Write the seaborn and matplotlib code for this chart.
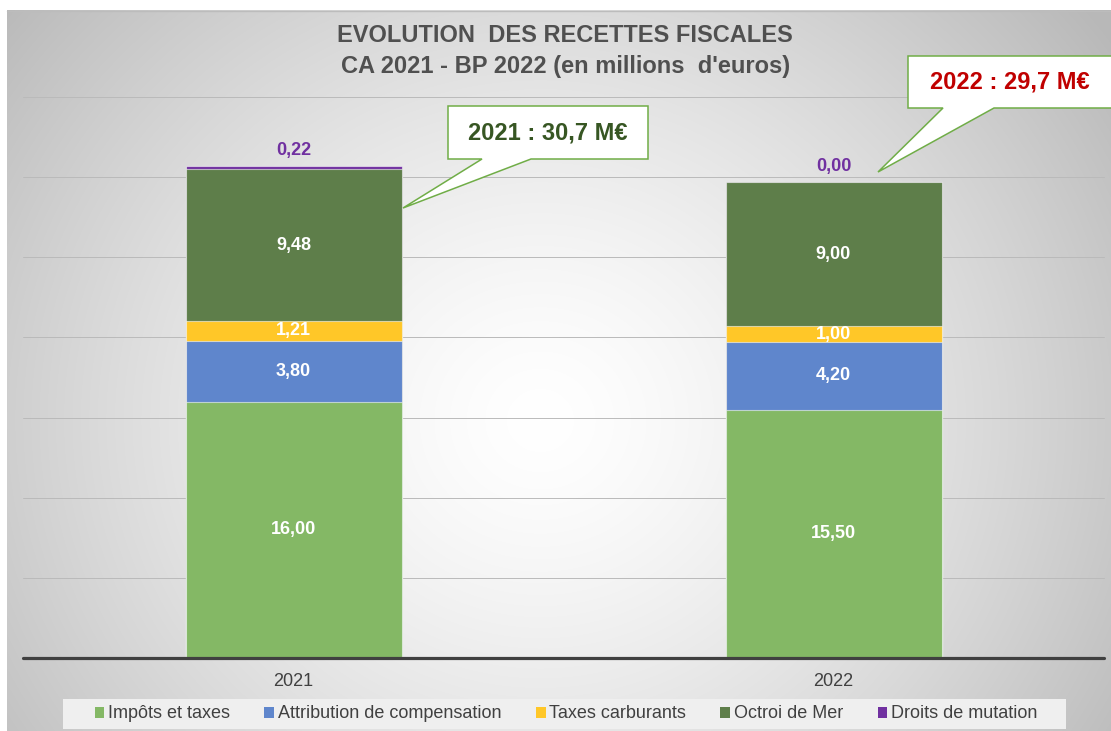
import numpy as np
import pandas as pd
import seaborn as sns
import matplotlib.pyplot as plt
from matplotlib.patches import Polygon, Rectangle, Patch

# Données (millions d'euros)
annees = ["2021", "2022"]
impots = [16.00, 15.50]
attribution = [3.80, 4.20]
carburants = [1.21, 1.00]
octroi = [9.48, 9.00]
mutation = [0.22, 0.00]

series = ["Impôts et taxes", "Attribution de compensation", "Taxes carburants",
          "Octroi de Mer", "Droits de mutation"]
couleurs = ["#84b865", "#5f86cc", "#ffc728", "#5e7e4a", "#7030a0"]

W, H = 1111, 731


def fr(v, nd=2):
    return f"{v:.{nd}f}".replace(".", ",")


df = pd.DataFrame({"annee": annees, series[0]: impots, series[1]: attribution,
                   series[2]: carburants, series[3]: octroi, series[4]: mutation})
cumul = df[series].cumsum(axis=1)
totaux = df[series].sum(axis=1)

sns.set_theme(style="white")
plt.rcParams["font.family"] = ["Liberation Sans", "DejaVu Sans"]

fig = plt.figure(figsize=(W / 100, H / 100), dpi=100, facecolor="white")

# fond dégradé radial
bg = fig.add_axes([0, 0, 1, 1], zorder=0)
bg.set_xlim(0, W)
bg.set_ylim(H, 0)
bg.axis("off")
xx, yy = np.meshgrid(np.arange(7, W), np.arange(10, H))
r = np.sqrt(((xx - 540) / 640) ** 2 + ((yy - 420) / 600) ** 2)
grey = 255 - 62 * np.clip(r, 0, 1.1) ** 1.4
img = np.dstack([grey, grey, grey]).astype(np.uint8)
bg.imshow(img, extent=(7, W, H, 10), aspect="auto", interpolation="bilinear")
bg.plot([7, W], [10.5, 10.5], color="#bcbcbc", lw=1)

# graphique principal
ax = fig.add_axes([23.5 / W, 1 - 658 / H, 1080 / W, (658 - 97) / H], zorder=1)
ax.set_facecolor("none")
for v in range(5, 40, 5):
    ax.axhline(v, color="#bababa", lw=0.7, zorder=0, clip_on=False)

# barres empilées : du haut vers le bas
for i in range(len(series) - 1, -1, -1):
    sns.barplot(x=df["annee"], y=cumul[series[i]], color=couleurs[i], width=0.4,
                edgecolor=(1, 1, 1, 0.55), linewidth=0.8, saturation=1, ax=ax, zorder=2)

ax.axhline(0, color="#404040", lw=2.3, zorder=3, clip_on=False)
ax.set_ylim(0, 35)
ax.set_xlim(-0.5, 1.5)
ax.set_yticks([])
ax.set_xlabel("")
ax.set_ylabel("")
for s in ax.spines.values():
    s.set_visible(False)
ax.tick_params(axis="x", length=0, pad=11, labelsize=13, labelcolor="#404040")

# étiquettes
for j in range(len(annees)):
    for i in range(4):
        bas = cumul[series[i]][j] - df[series[i]][j]
        ax.text(j, bas + df[series[i]][j] / 2, fr(df[series[i]][j]), ha="center", va="center",
                color="white", fontsize=13, fontweight="bold", zorder=4)
    ax.annotate(fr(mutation[j]), (j, totaux[j]), xytext=(0, 11), textcoords="offset points",
                ha="center", va="center", color="#7030a0", fontsize=13, fontweight="bold")

# calque en pixels pour titre, bulles, légende
ov = fig.add_axes([0, 0, 1, 1], zorder=5)
ov.set_xlim(0, W)
ov.set_ylim(H, 0)
ov.axis("off")
ov.set_facecolor("none")

ov.text(565, 36, "EVOLUTION  DES RECETTES FISCALES", ha="center", va="center",
        fontsize=17, fontweight="bold", color="#505050")
ov.text(566, 66, "CA 2021 - BP 2022 (en millions  d'euros)", ha="center", va="center",
        fontsize=17, fontweight="bold", color="#505050")

bulles = [
    ([(448, 106), (648, 106), (648, 159), (531, 159), (403, 208), (482, 159), (448, 159)],
     (548, 133), "#375623"),
    ([(908, 56), (1116, 56), (1116, 108), (994, 108), (878, 172), (943, 108), (908, 108)],
     (1010, 82), "#c00000"),
]
for j, (pts, centre, col) in enumerate(bulles):
    ov.add_patch(Polygon(pts, closed=True, facecolor="white", edgecolor="#70ad47", lw=1.1))
    ov.text(centre[0], centre[1], f"{annees[j]} : {fr(totaux[j], 1)} M€", ha="center",
            va="center", fontsize=17, fontweight="bold", color=col)

ov.add_patch(Rectangle((63, 699), 1003, 30, facecolor="#efefef", edgecolor="none"))
handles = [Patch(facecolor=c, edgecolor="none") for c in couleurs]
leg = ov.legend(handles, series, loc="center", bbox_to_anchor=(566 / W, 1 - 714 / H),
                ncol=5, frameon=False, fontsize=13, handlelength=0.55, handleheight=0.55,
                handletextpad=0.2, columnspacing=1.9, borderpad=0)
for t in leg.get_texts():
    t.set_color("#404040")

fig.savefig("out.png", dpi=100, facecolor="white")
